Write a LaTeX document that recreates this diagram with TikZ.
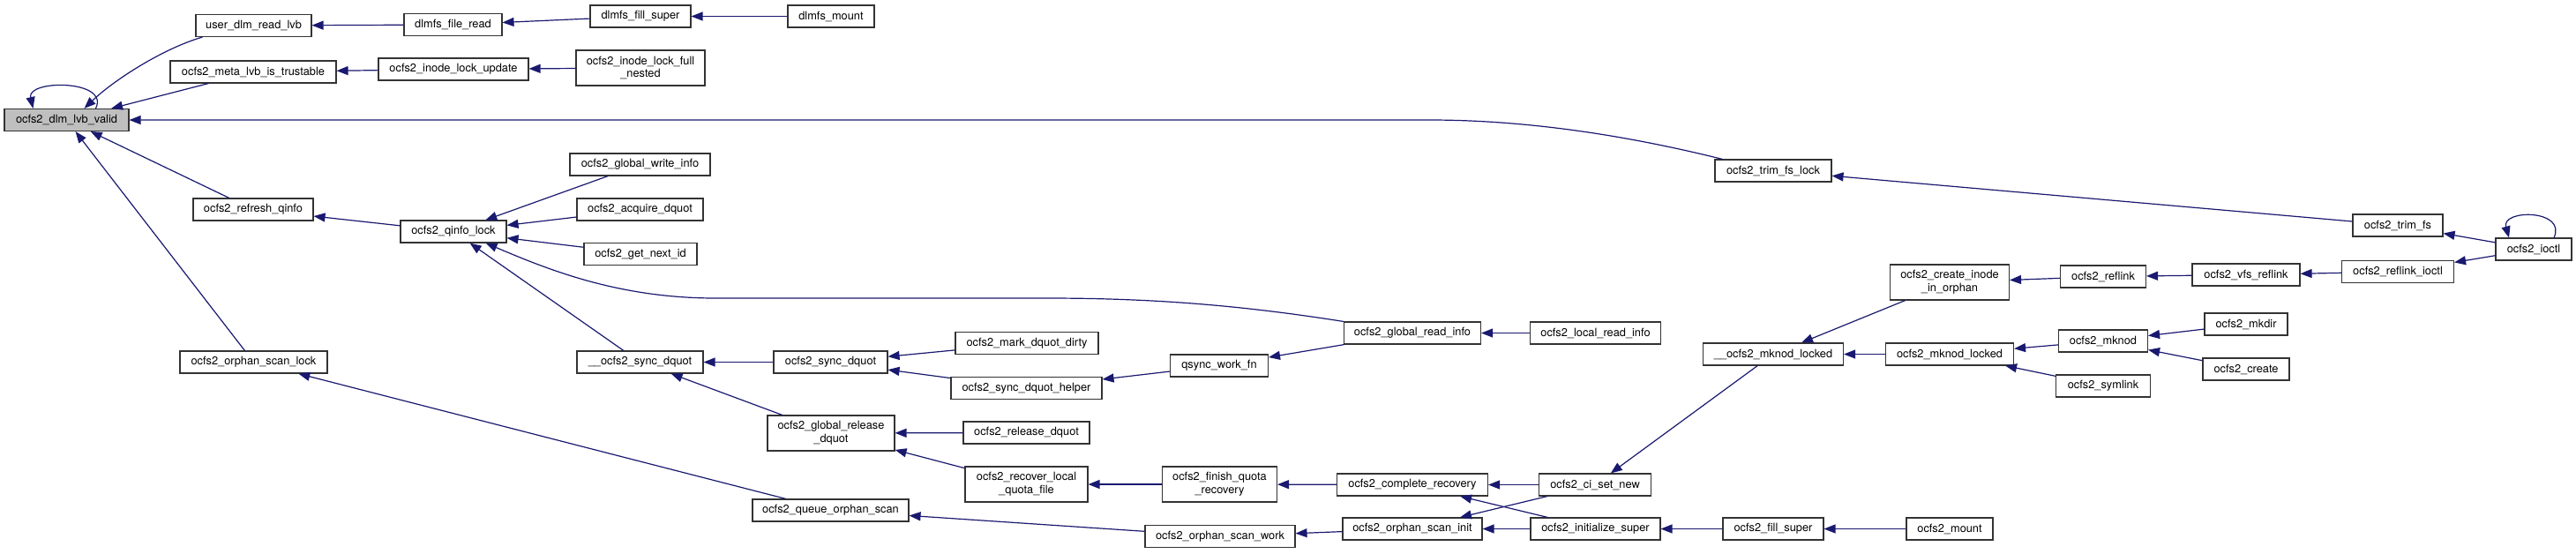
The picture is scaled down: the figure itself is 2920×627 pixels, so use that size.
\documentclass[tikz,border=0pt]{standalone}
\usepackage{fontspec}
\setmainfont{TeX Gyre Heros}
\usepackage{tikz}
\usetikzlibrary{arrows.meta, positioning}
\definecolor{edgeblue}{HTML}{191970}
\definecolor{boxgrey}{HTML}{BFBFBF}
\newcommand{\fnfont}{\fontsize{12.8}{14.7}\selectfont}

\begin{document}
\begin{tikzpicture}[x=1pt, y=-1pt,
  fn/.style={draw=black!80, line width=1.1pt, fill=white, rectangle, minimum height=25pt, inner sep=1pt, align=center, font=\fnfont},
  fnb/.style={fn, minimum height=40pt},
  callee/.style={fn, fill=boxgrey},
  call/.style={draw=edgeblue, line width=1.2pt, -{Triangle[length=13pt,width=10pt]}}]
\useasboundingbox[fill=white] (0,0) rectangle (2920,627);

\node[callee, minimum width=141pt] (dlmvalid) at (75.5,136) {ocfs2\_dlm\_lvb\_valid};
\node[fn, minimum width=131pt] (userlvb) at (287.5,29) {user\_dlm\_read\_lvb};
\node[fn, minimum width=188pt] (metalvb) at (287,81.5) {ocfs2\_meta\_lvb\_is\_trustable};
\node[fn, minimum width=136pt] (refreshq) at (287,237.5) {ocfs2\_refresh\_qinfo};
\node[fn, minimum width=167pt] (orphanlock) at (287.5,410.5) {ocfs2\_orphan\_scan\_lock};
\node[fn, minimum width=111pt] (fileread) at (513.5,28) {dlmfs\_file\_read};
\node[fn, minimum width=114pt] (dlmfill) at (726,18.5) {dlmfs\_fill\_super};
\node[fn, minimum width=98pt] (dlmmount) at (942,18.5) {dlmfs\_mount};
\node[fn, minimum width=170pt] (lockupdate) at (514,78.5) {ocfs2\_inode\_lock\_update};
\node[fnb, minimum width=146pt] (fullnested) at (726,77) {ocfs2\_inode\_lock\_full\\\_nested};
\node[fn, minimum width=120pt] (qinfolock) at (514,262.5) {ocfs2\_qinfo\_lock};
\node[fn, minimum width=159pt] (gwriteinfo) at (725.5,186.5) {ocfs2\_global\_write\_info};
\node[fn, minimum width=143pt] (acquiredq) at (725.5,237.5) {ocfs2\_acquire\_dquot};
\node[fn, minimum width=128pt] (nextid) at (726,288) {ocfs2\_get\_next\_id};
\node[fn, minimum width=143pt] (syncdq) at (725.5,410.5) {\_\_ocfs2\_sync\_dquot};
\node[fn, minimum width=129pt] (syncdquot) at (941.5,410.5) {ocfs2\_sync\_dquot};
\node[fn, minimum width=162pt] (markdirty) at (1164,389) {ocfs2\_mark\_dquot\_dirty};
\node[fn, minimum width=171pt] (synchelper) at (1163.5,440) {ocfs2\_sync\_dquot\_helper};
\node[fnb, minimum width=144pt] (grelease) at (942,491) {ocfs2\_global\_release\\\_dquot};
\node[fn, minimum width=143pt] (releasedq) at (1163.5,490.5) {ocfs2\_release\_dquot};
\node[fnb, minimum width=139pt] (recoverlocal) at (1163.5,549) {ocfs2\_recover\_local\\\_quota\_file};
\node[fn, minimum width=177pt] (queueorphan) at (941.5,578.5) {ocfs2\_queue\_orphan\_scan};
\node[fn, minimum width=155pt] (greadinfo) at (1601,377.5) {ocfs2\_global\_read\_info};
\node[fn, minimum width=148pt] (lreadinfo) at (1808.5,377.5) {ocfs2\_local\_read\_info};
\node[fn, minimum width=111pt] (qsyncwork) at (1382,414.5) {qsync\_work\_fn};
\node[fnb, minimum width=130pt] (finishquota) at (1382.5,549) {ocfs2\_finish\_quota\\\_recovery};
\node[fn, minimum width=171pt] (completerec) at (1601,549.5) {ocfs2\_complete\_recovery};
\node[fn, minimum width=127pt] (cisetnew) at (1808,549.5) {ocfs2\_ci\_set\_new};
\node[fn, minimum width=170pt] (orphanwork) at (1383,608) {ocfs2\_orphan\_scan\_work};
\node[fn, minimum width=158pt] (orphaninit) at (1601,599.5) {ocfs2\_orphan\_scan\_init};
\node[fn, minimum width=147pt] (initsuper) at (1808.5,599.5) {ocfs2\_initialize\_super};
\node[fn, minimum width=132pt] (tfslock) at (2010,193.5) {ocfs2\_trim\_fs\_lock};
\node[fnb, minimum width=135pt] (createorphan) at (2210,320) {ocfs2\_create\_inode\\\_in\_orphan};
\node[fn, minimum width=97pt] (reflink) at (2384,313.5) {ocfs2\_reflink};
\node[fn, minimum width=159pt] (mknodlk) at (2010,401.5) {\_\_ocfs2\_mknod\_locked};
\node[fn, minimum width=145pt] (mknodlocked) at (2210,401.5) {ocfs2\_mknod\_locked};
\node[fn, minimum width=101pt] (mknod) at (2384,386.5) {ocfs2\_mknod};
\node[fn, minimum width=107pt] (symlink) at (2384,437.5) {ocfs2\_symlink};
\node[fn, minimum width=114pt] (fillsuper) at (2010,599.5) {ocfs2\_fill\_super};
\node[fn, minimum width=98pt] (mount) at (2210,599.5) {ocfs2\_mount};
\node[fn, minimum width=102pt] (trimfs) at (2718,255.5) {ocfs2\_trim\_fs};
\node[fn, minimum width=86pt] (ioctl) at (2872,282.5) {ocfs2\_ioctl};
\node[fn, minimum width=127pt] (reflinkioctl) at (2718,308) {ocfs2\_reflink\_ioctl};
\node[fn, minimum width=122pt] (vfsreflink) at (2546,311.5) {ocfs2\_vfs\_reflink};
\node[fn, minimum width=94pt] (mkdir) at (2546,367.5) {ocfs2\_mkdir};
\node[fn, minimum width=98pt] (create) at (2546,418.5) {ocfs2\_create};

\draw[call] ([xshift=33pt]dlmvalid.north) .. controls (125,90) and (30,90) .. ([xshift=-38pt]dlmvalid.north);
\draw[call] ([xshift=8pt]userlvb.south west) .. controls (185,55) and (130,90) .. ([xshift=20pt]dlmvalid.north);
\draw[call] (metalvb) -- (dlmvalid);
\draw[call] ([xshift=9pt]tfslock.north west) .. controls (1870,160) and (1750,136) .. (1620,136) -- (dlmvalid);
\draw[call] (refreshq) -- (dlmvalid);
\draw[call] (orphanlock) -- (dlmvalid);
\draw[call] (fileread) -- (userlvb);
\draw[call] (dlmfill) -- (fileread);
\draw[call] (dlmmount) -- (dlmfill);
\draw[call] (lockupdate) -- (metalvb);
\draw[call] (fullnested) -- (lockupdate);
\draw[call] (qinfolock) -- (refreshq);
\draw[call] (gwriteinfo) -- (qinfolock);
\draw[call] (acquiredq) -- (qinfolock);
\draw[call] (nextid) -- (qinfolock);
\draw[call] (syncdq) -- (qinfolock);
\draw[call] (greadinfo.north west) .. controls (1400,345) and (1300,338) .. (1186,338) -- (811,338) .. controls (700,338) and (620,305) .. ([xshift=-24pt]qinfolock.south east);
\draw[call] (syncdquot) -- (syncdq);
\draw[call] (grelease) -- (syncdq);
\draw[call] (markdirty) -- (syncdquot);
\draw[call] (synchelper) -- (syncdquot);
\draw[call] (qsyncwork) -- (synchelper);
\draw[call] (greadinfo) -- (qsyncwork);
\draw[call] (lreadinfo) -- (greadinfo);
\draw[call] (releasedq) -- (grelease);
\draw[call] (recoverlocal) -- (grelease);
\draw[call] (finishquota) -- (recoverlocal);
\draw[call] (completerec) -- (finishquota);
\draw[call] (cisetnew) -- (completerec);
\draw[call] (initsuper) -- (completerec);
\draw[call] (queueorphan) -- (orphanlock);
\draw[call] (orphanwork) -- (queueorphan);
\draw[call] (orphaninit) -- (orphanwork);
\draw[call] (cisetnew) -- (orphaninit);
\draw[call] (initsuper) -- (orphaninit);
\draw[call] (mknodlk) -- (cisetnew);
\draw[call] (createorphan) -- (mknodlk);
\draw[call] (mknodlocked) -- (mknodlk);
\draw[call] (reflink) -- (createorphan);
\draw[call] (vfsreflink) -- (reflink);
\draw[call] (reflinkioctl) -- (vfsreflink);
\draw[call] (ioctl) -- (reflinkioctl);
\draw[call] (ioctl) -- (trimfs);
\draw[call] (trimfs) -- (tfslock);
\draw[call] ([xshift=23pt]ioctl.north) .. controls (2910,237) and (2835,237) .. ([xshift=-28pt]ioctl.north);
\draw[call] (mknod) -- (mknodlocked);
\draw[call] (symlink) -- (mknodlocked);
\draw[call] (mkdir) -- (mknod);
\draw[call] (create) -- (mknod);
\draw[call] (fillsuper) -- (initsuper);
\draw[call] (mount) -- (fillsuper);
\end{tikzpicture}
\end{document}
